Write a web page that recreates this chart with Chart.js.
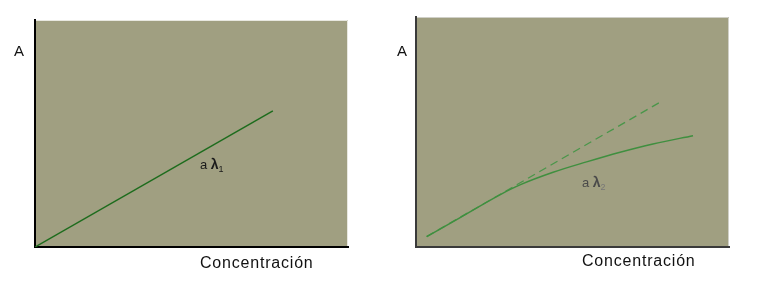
<!DOCTYPE html>
<html>
<head>
<meta charset="utf-8">
<script src="https://cdn.jsdelivr.net/npm/chart.js@4/dist/chart.umd.min.js"></script>
<style>
html,body{margin:0;padding:0;background:#fff;width:765px;height:282px;overflow:hidden;}
canvas{position:absolute;top:0;}
#c1{left:0;}
#c2{left:380px;}
</style>
</head>
<body>
<canvas id="c1" width="380" height="282"></canvas>
<canvas id="c2" width="385" height="282"></canvas>
<script>
// Panel 1: linear absorbance vs concentration at lambda 1
const leftX = [0, 7.6];
const leftY = [0, 6.0];
// Panel 2: curved response at lambda 2 and dashed ideal line
const rightCurveX = [0.34, 1.41, 2.68, 3.32, 4.38, 5.45, 6.52, 7.57, 8.85];
const rightCurveY = [0.45, 1.28, 2.27, 2.70, 3.25, 3.70, 4.12, 4.48, 4.84];
const rightDashX = [0.34, 7.89];
const rightDashY = [0.45, 6.37];
// Labels
const yAxisLabel = "A";
const xAxisLabel = "Concentración";
const lambdaLabels = [
  {a: "a ", lam: "λ", sub: "1", x: 5.27, y: 3.45},
  {a: "a ", lam: "λ", sub: "2", x: 5.30, y: 2.62}
];

const FONT = '"Liberation Sans", Arial, sans-serif';
const BG = '#a09f81';

function pts(xs, ys){ return xs.map((x,i)=>({x:x, y:ys[i]})); }

function panelPlugin(opts){
  return {
    id: 'panel'+opts.idx,
    beforeDraw(chart){
      const {ctx, chartArea:a} = chart;
      ctx.save();
      ctx.fillStyle = BG;
      ctx.fillRect(a.left, a.top, a.right-a.left, a.bottom-a.top);
      ctx.strokeStyle = opts.edge;
      ctx.lineWidth = 1;
      ctx.beginPath();
      ctx.moveTo(a.left, a.top+0.5); ctx.lineTo(a.right-0.5, a.top+0.5); ctx.lineTo(a.right-0.5, a.bottom);
      ctx.stroke();
      ctx.restore();
    },
    afterDraw(chart){
      const {ctx, chartArea:a, scales} = chart;
      ctx.save();
      ctx.fillStyle = '#111';
      ctx.font = '15px ' + FONT;
      ctx.textBaseline = 'alphabetic';
      ctx.fillText(yAxisLabel, a.left + opts.aDx, a.top + opts.aDy);
      ctx.font = '16px ' + FONT;
      try { ctx.letterSpacing = '0.8px'; } catch(e) {}
      ctx.fillText(xAxisLabel, a.left + opts.cDx, a.bottom + opts.cDy);
      try { ctx.letterSpacing = '0px'; } catch(e) {}
      const L = lambdaLabels[opts.idx];
      let px = scales.x.getPixelForValue(L.x);
      const py = scales.y.getPixelForValue(L.y);
      ctx.fillStyle = opts.lblColor;
      ctx.font = '13px ' + FONT;
      ctx.fillText(L.a, px, py);
      px += ctx.measureText(L.a).width;
      ctx.font = 'bold 14px ' + FONT;
      ctx.fillText(L.lam, px, py);
      px += ctx.measureText(L.lam).width;
      ctx.fillStyle = opts.subColor;
      ctx.font = '9px ' + FONT;
      ctx.fillText(L.sub, px, py + 3);
      ctx.restore();
    }
  };
}

function makeScales(axisColor){
  const common = {
    type: 'linear', min: 0, max: 10,
    grid: {display: false, drawTicks: false},
    ticks: {display: false},
    border: {display: true, color: axisColor, width: 2}
  };
  return {
    x: Object.assign({}, common, {position: 'bottom'}),
    y: Object.assign({}, common, {position: 'left'})
  };
}

new Chart(document.getElementById('c1'), {
  type: 'scatter',
  data: {
    datasets: [{
      data: pts(leftX, leftY),
      showLine: true,
      borderColor: '#1d6c1d',
      borderWidth: 1.5,
      pointRadius: 0,
      fill: false
    }]
  },
  options: {
    responsive: false,
    animation: false,
    layout: {padding: {left: 35, top: 20, right: 32, bottom: 35}},
    plugins: {legend: {display: false}, tooltip: {enabled: false}},
    scales: makeScales('#000')
  },
  plugins: [panelPlugin({idx:0, edge:'#e8e8e0', aDx:-21, aDy:36, cDx:165, cDy:21, lblColor:'#1a1a1a', subColor:'#1a1a1a'})]
});

new Chart(document.getElementById('c2'), {
  type: 'scatter',
  data: {
    datasets: [{
      data: pts(rightCurveX, rightCurveY),
      showLine: true,
      borderColor: '#3f8f3f',
      borderWidth: 1.5,
      pointRadius: 0,
      tension: 0.4,
      cubicInterpolationMode: 'monotone',
      fill: false
    },{
      data: pts(rightDashX, rightDashY),
      showLine: true,
      borderColor: '#4a964a',
      borderWidth: 1.3,
      borderDash: [8, 5],
      pointRadius: 0,
      fill: false
    }]
  },
  options: {
    responsive: false,
    animation: false,
    layout: {padding: {left: 36, top: 17, right: 36, bottom: 35}},
    plugins: {legend: {display: false}, tooltip: {enabled: false}},
    scales: makeScales('#3a3a3a')
  },
  plugins: [panelPlugin({idx:1, edge:'#d0d0c8', aDx:-19, aDy:39, cDx:166, cDy:19, lblColor:'#4a4a4a', subColor:'#777'})]
});
</script>
</body>
</html>
